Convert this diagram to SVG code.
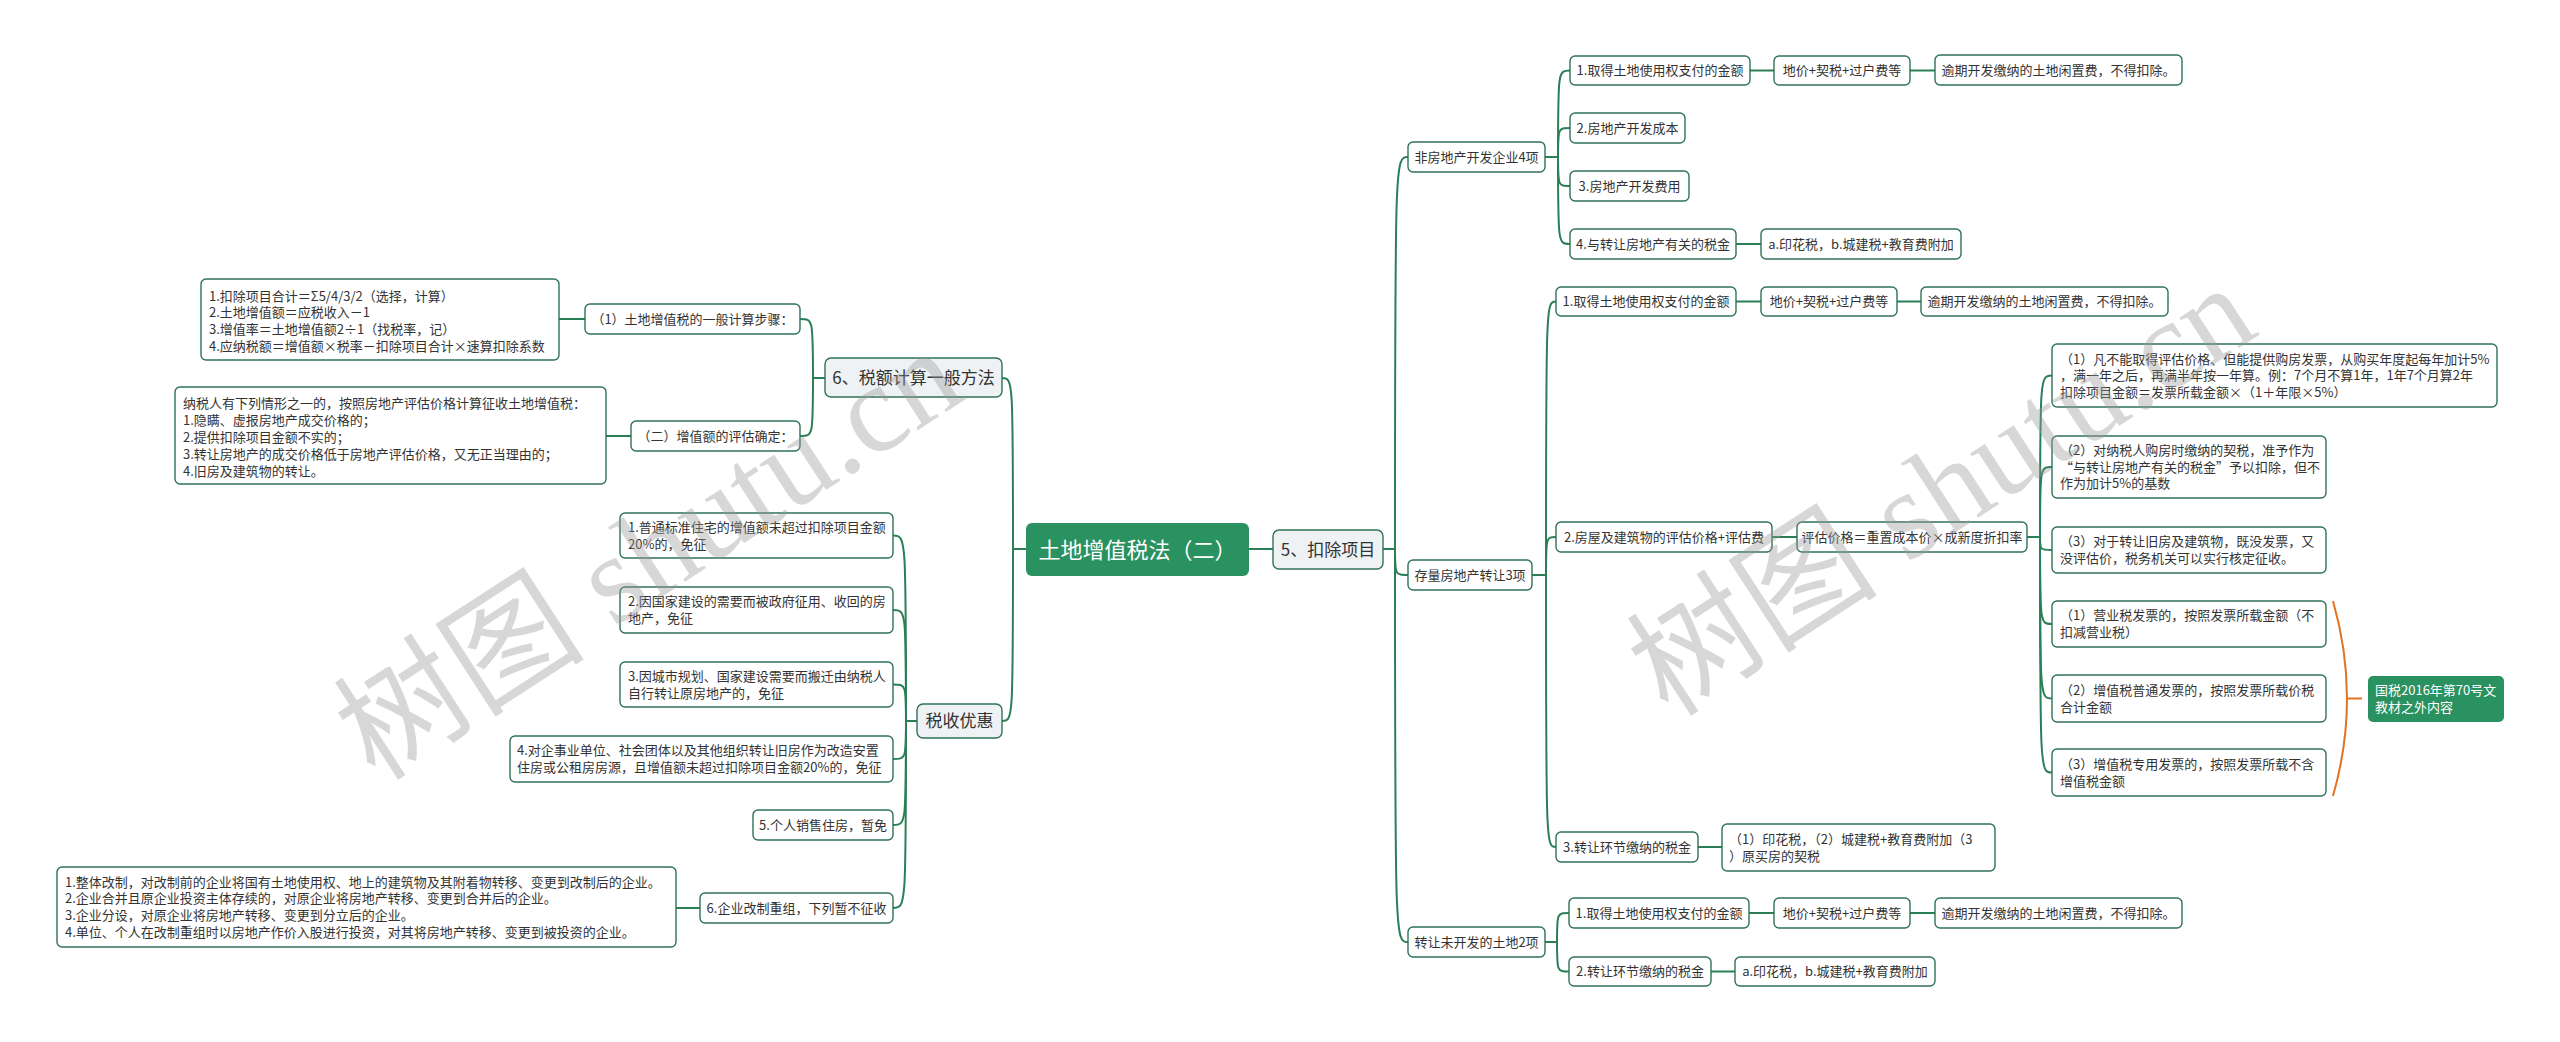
<svg xmlns="http://www.w3.org/2000/svg" width="2560" height="1042" viewBox="0 0 2560 1042">
<style>
.c{fill:none;stroke:#2b7f57;stroke-width:2}
.n rect{fill:#fff;stroke:#2f7356;stroke-width:1.4}
.b rect{fill:#eef2f5;stroke:#2f7356;stroke-width:1.4}
.g rect{fill:#2a9160;stroke:none}
text{font-family:"Noto Sans CJK SC","Noto Sans",sans-serif;fill:#333}
.t{font-size:13px}
.tm{font-size:13px;text-anchor:middle}
.bt{font-size:17px;text-anchor:middle}
.ct{font-size:22px;text-anchor:middle;fill:#fff}
.wt{font-size:13px;fill:#fff}
.wm{font-family:"Liberation Serif","Noto Sans CJK SC",serif;font-size:126px;fill:#999;opacity:0.38;text-anchor:middle}
</style>
<rect width="2560" height="1042" fill="#fff"/>
<g id="connectors">
<path class="c" d="M1026,549 L1013,549"/>
<path class="c" d="M1013,549 C1013,378 1013,378 1002,378"/>
<path class="c" d="M1013,549 C1013,721 1013,721 1002,721"/>
<path class="c" d="M825,378 L813,378"/>
<path class="c" d="M813,378 C813,319 813,319 800,319"/>
<path class="c" d="M813,378 C813,436 813,436 800,436"/>
<path class="c" d="M585,319 L559,319"/>
<path class="c" d="M631,436 L606,436"/>
<path class="c" d="M917,721 L906,721"/>
<path class="c" d="M906,721 C906,535.5 906,535.5 893,535.5"/>
<path class="c" d="M906,721 C906,610 906,610 893,610"/>
<path class="c" d="M906,721 C906,684.5 906,684.5 893,684.5"/>
<path class="c" d="M906,721 C906,759 906,759 893,759"/>
<path class="c" d="M906,721 C906,825 906,825 893,825"/>
<path class="c" d="M906,721 C906,908 906,908 893,908"/>
<path class="c" d="M700,908 L676,908"/>
<path class="c" d="M1249,549 L1273,549"/>
<path class="c" d="M1383,549 L1395,549"/>
<path class="c" d="M1395,549 C1395,157 1395,157 1408,157"/>
<path class="c" d="M1395,549 C1395,575 1395,575 1408,575"/>
<path class="c" d="M1395,549 C1395,942 1395,942 1408,942"/>
<path class="c" d="M1545,157 L1558,157"/>
<path class="c" d="M1558,157 C1558,70.5 1558,70.5 1570,70.5"/>
<path class="c" d="M1558,157 C1558,128 1558,128 1570,128"/>
<path class="c" d="M1558,157 C1558,186 1558,186 1570,186"/>
<path class="c" d="M1558,157 C1558,244 1558,244 1570,244"/>
<path class="c" d="M1750,70.5 L1774,70.5"/>
<path class="c" d="M1910,70.5 L1935,70.5"/>
<path class="c" d="M1736,244 L1761,244"/>
<path class="c" d="M1532,575 L1546,575"/>
<path class="c" d="M1546,575 C1546,301.5 1546,301.5 1556,301.5"/>
<path class="c" d="M1546,575 C1546,537 1546,537 1556,537"/>
<path class="c" d="M1546,575 C1546,847 1546,847 1556,847"/>
<path class="c" d="M1736,301.5 L1761,301.5"/>
<path class="c" d="M1897,301.5 L1921,301.5"/>
<path class="c" d="M1772,537 L1797,537"/>
<path class="c" d="M2027,537 L2040,537"/>
<path class="c" d="M2040,537 C2040,375.5 2040,375.5 2052,375.5"/>
<path class="c" d="M2040,537 C2040,467 2040,467 2052,467"/>
<path class="c" d="M2040,537 C2040,550 2040,550 2052,550"/>
<path class="c" d="M2040,537 C2040,624 2040,624 2052,624"/>
<path class="c" d="M2040,537 C2040,698.5 2040,698.5 2052,698.5"/>
<path class="c" d="M2040,537 C2040,772.5 2040,772.5 2052,772.5"/>
<path class="c" d="M1698,847 L1722,847"/>
<path class="c" d="M1545,942 L1557,942"/>
<path class="c" d="M1557,942 C1557,913 1557,913 1569,913"/>
<path class="c" d="M1557,942 C1557,971.5 1557,971.5 1569,971.5"/>
<path class="c" d="M1749,913 L1774,913"/>
<path class="c" d="M1910,913 L1935,913"/>
<path class="c" d="M1711,971.5 L1735,971.5"/>
<path d="M2333,601 Q2361,698.5 2333,796" fill="none" stroke="#e2731e" stroke-width="2"/>
<path d="M2347,698.5 L2362,698.5" fill="none" stroke="#e2731e" stroke-width="2"/>
</g>
<g id="n-center" class="g"><rect x="1026" y="523" width="223" height="53" rx="6"/><text class="ct" x="1137.5" y="557.5">土地增值税法（二）</text></g>
<g id="n-b5" class="b"><rect x="1273" y="530" width="110" height="39" rx="6"/><text class="bt" x="1328" y="555.5">5、扣除项目</text></g>
<g id="n-b6" class="b"><rect x="825" y="358" width="177" height="39" rx="6"/><text class="bt" x="913.5" y="383.5">6、税额计算一般方法</text></g>
<g id="n-bs" class="b"><rect x="917" y="704" width="85" height="34" rx="6"/><text class="bt" x="959.5" y="727">税收优惠</text></g>
<g id="n-l1" class="n"><rect x="585" y="304" width="215" height="30" rx="5"/><text class="tm" x="692.5" y="323.7">（1）土地增值税的一般计算步骤：</text></g>
<g id="n-l1a" class="n"><rect x="201" y="279" width="358" height="81" rx="5"/><text class="t"><tspan x="209" y="300.7">1.扣除项目合计＝Σ5/4/3/2（选择，计算）</tspan><tspan x="209" y="317.4">2.土地增值额＝应税收入－1</tspan><tspan x="209" y="334">3.增值率＝土地增值额2÷1（找税率，记）</tspan><tspan x="209" y="350.7">4.应纳税额＝增值额×税率－扣除项目合计×速算扣除系数</tspan></text></g>
<g id="n-l2" class="n"><rect x="631" y="421" width="169" height="30" rx="5"/><text class="tm" x="715.5" y="440.7">（二）增值额的评估确定：</text></g>
<g id="n-l2a" class="n"><rect x="175" y="387" width="431" height="97" rx="5"/><text class="t"><tspan x="183" y="407.7">纳税人有下列情形之一的，按照房地产评估价格计算征收土地增值税：</tspan><tspan x="183" y="424.7">1.隐瞒、虚报房地产成交价格的；</tspan><tspan x="183" y="441.7">2.提供扣除项目金额不实的；</tspan><tspan x="183" y="458.7">3.转让房地产的成交价格低于房地产评估价格，又无正当理由的；</tspan><tspan x="183" y="475.7">4.旧房及建筑物的转让。</tspan></text></g>
<g id="n-s1" class="n"><rect x="620" y="513" width="273" height="45" rx="5"/><text class="t"><tspan x="628" y="531.9">1.普通标准住宅的增值额未超过扣除项目金额</tspan><tspan x="628" y="548.5">20%的，免征</tspan></text></g>
<g id="n-s2" class="n"><rect x="620" y="587" width="273" height="46" rx="5"/><text class="t"><tspan x="628" y="606.4">2.因国家建设的需要而被政府征用、收回的房</tspan><tspan x="628" y="623">地产，免征</tspan></text></g>
<g id="n-s3" class="n"><rect x="620" y="662" width="273" height="45" rx="5"/><text class="t"><tspan x="628" y="680.9">3.因城市规划、国家建设需要而搬迁由纳税人</tspan><tspan x="628" y="697.5">自行转让原房地产的，免征</tspan></text></g>
<g id="n-s4" class="n"><rect x="510" y="736" width="383" height="46" rx="5"/><text class="t"><tspan x="517" y="755.4">4.对企事业单位、社会团体以及其他组织转让旧房作为改造安置</tspan><tspan x="517" y="772">住房或公租房房源，且增值额未超过扣除项目金额20%的，免征</tspan></text></g>
<g id="n-s5" class="n"><rect x="753" y="810" width="140" height="30" rx="5"/><text class="tm" x="823" y="829.7">5.个人销售住房，暂免</text></g>
<g id="n-s6" class="n"><rect x="700" y="893" width="193" height="30" rx="5"/><text class="tm" x="796.5" y="912.7">6.企业改制重组，下列暂不征收</text></g>
<g id="n-s6a" class="n"><rect x="57" y="867" width="619" height="80" rx="5"/><text class="t"><tspan x="65" y="886.7">1.整体改制，对改制前的企业将国有土地使用权、地上的建筑物及其附着物转移、变更到改制后的企业。</tspan><tspan x="65" y="903.4">2.企业合并且原企业投资主体存续的，对原企业将房地产转移、变更到合并后的企业。</tspan><tspan x="65" y="920">3.企业分设，对原企业将房地产转移、变更到分立后的企业。</tspan><tspan x="65" y="936.7">4.单位、个人在改制重组时以房地产作价入股进行投资，对其将房地产转移、变更到被投资的企业。</tspan></text></g>
<g id="n-r1" class="n"><rect x="1408" y="142" width="137" height="30" rx="5"/><text class="tm" x="1476.5" y="161.7">非房地产开发企业4项</text></g>
<g id="n-r1-1" class="n"><rect x="1570" y="56" width="180" height="29" rx="5"/><text class="tm" x="1660" y="75.2">1.取得土地使用权支付的金额</text></g>
<g id="n-r1-1a" class="n"><rect x="1774" y="56" width="136" height="29" rx="5"/><text class="tm" x="1842" y="75.2">地价+契税+过户费等</text></g>
<g id="n-r1-1b" class="n"><rect x="1935" y="55" width="247" height="30" rx="5"/><text class="tm" x="2058.5" y="74.7">逾期开发缴纳的土地闲置费，不得扣除。</text></g>
<g id="n-r1-2" class="n"><rect x="1570" y="113" width="115" height="30" rx="5"/><text class="tm" x="1627.5" y="132.7">2.房地产开发成本</text></g>
<g id="n-r1-3" class="n"><rect x="1570" y="171" width="119" height="30" rx="5"/><text class="tm" x="1629.5" y="190.7">3.房地产开发费用</text></g>
<g id="n-r1-4" class="n"><rect x="1570" y="229" width="166" height="30" rx="5"/><text class="tm" x="1653" y="248.7">4.与转让房地产有关的税金</text></g>
<g id="n-r1-4a" class="n"><rect x="1761" y="229" width="200" height="30" rx="5"/><text class="tm" x="1861" y="248.7">a.印花税，b.城建税+教育费附加</text></g>
<g id="n-r2" class="n"><rect x="1408" y="560" width="124" height="30" rx="5"/><text class="tm" x="1470" y="579.7">存量房地产转让3项</text></g>
<g id="n-r2-1" class="n"><rect x="1556" y="287" width="180" height="29" rx="5"/><text class="tm" x="1646" y="306.2">1.取得土地使用权支付的金额</text></g>
<g id="n-r2-1a" class="n"><rect x="1761" y="287" width="136" height="29" rx="5"/><text class="tm" x="1829" y="306.2">地价+契税+过户费等</text></g>
<g id="n-r2-1b" class="n"><rect x="1921" y="287" width="247" height="29" rx="5"/><text class="tm" x="2044.5" y="306.2">逾期开发缴纳的土地闲置费，不得扣除。</text></g>
<g id="n-r2-2" class="n"><rect x="1556" y="522" width="216" height="30" rx="5"/><text class="tm" x="1664" y="541.7">2.房屋及建筑物的评估价格+评估费</text></g>
<g id="n-r2-2a" class="n"><rect x="1797" y="522" width="230" height="30" rx="5"/><text class="tm" x="1912" y="541.7">评估价格＝重置成本价×成新度折扣率</text></g>
<g id="n-p1" class="n"><rect x="2052" y="344" width="445" height="63" rx="5"/><text class="t"><tspan x="2060" y="363.5">（1）凡不能取得评估价格、但能提供购房发票，从购买年度起每年加计5%</tspan><tspan x="2060" y="380.2">，满一年之后，再满半年按一年算。例：7个月不算1年，1年7个月算2年</tspan><tspan x="2060" y="396.9">扣除项目金额＝发票所载金额×（1＋年限×5%）</tspan></text></g>
<g id="n-p2" class="n"><rect x="2052" y="436" width="274" height="62" rx="5"/><text class="t"><tspan x="2060" y="455">（2）对纳税人购房时缴纳的契税，准予作为</tspan><tspan x="2060" y="471.7">“与转让房地产有关的税金”予以扣除，但不</tspan><tspan x="2060" y="488.4">作为加计5%的基数</tspan></text></g>
<g id="n-p3" class="n"><rect x="2052" y="527" width="274" height="46" rx="5"/><text class="t"><tspan x="2060" y="546.4">（3）对于转让旧房及建筑物，既没发票，又</tspan><tspan x="2060" y="563">没评估价，税务机关可以实行核定征收。</tspan></text></g>
<g id="n-q1" class="n"><rect x="2052" y="601" width="274" height="46" rx="5"/><text class="t"><tspan x="2060" y="620.4">（1）营业税发票的，按照发票所载金额（不</tspan><tspan x="2060" y="637">扣减营业税）</tspan></text></g>
<g id="n-q2" class="n"><rect x="2052" y="675" width="274" height="47" rx="5"/><text class="t"><tspan x="2060" y="694.9">（2）增值税普通发票的，按照发票所载价税</tspan><tspan x="2060" y="711.5">合计金额</tspan></text></g>
<g id="n-q3" class="n"><rect x="2052" y="749" width="274" height="47" rx="5"/><text class="t"><tspan x="2060" y="768.9">（3）增值税专用发票的，按照发票所载不含</tspan><tspan x="2060" y="785.5">增值税金额</tspan></text></g>
<g id="n-note" class="g"><rect x="2368" y="676" width="136" height="46" rx="5"/><text class="wt"><tspan x="2375" y="695.4">国税2016年第70号文</tspan><tspan x="2375" y="712">教材之外内容</tspan></text></g>
<g id="n-r2-3" class="n"><rect x="1556" y="832" width="142" height="30" rx="5"/><text class="tm" x="1627" y="851.7">3.转让环节缴纳的税金</text></g>
<g id="n-r2-3a" class="n"><rect x="1722" y="824" width="273" height="47" rx="5"/><text class="t"><tspan x="1729" y="843.9">（1）印花税，（2）城建税+教育费附加（3</tspan><tspan x="1729" y="860.5">）原买房的契税</tspan></text></g>
<g id="n-r3" class="n"><rect x="1408" y="927" width="137" height="30" rx="5"/><text class="tm" x="1476.5" y="946.7">转让未开发的土地2项</text></g>
<g id="n-r3-1" class="n"><rect x="1569" y="898" width="180" height="30" rx="5"/><text class="tm" x="1659" y="917.7">1.取得土地使用权支付的金额</text></g>
<g id="n-r3-1a" class="n"><rect x="1774" y="898" width="136" height="30" rx="5"/><text class="tm" x="1842" y="917.7">地价+契税+过户费等</text></g>
<g id="n-r3-1b" class="n"><rect x="1935" y="898" width="247" height="30" rx="5"/><text class="tm" x="2058.5" y="917.7">逾期开发缴纳的土地闲置费，不得扣除。</text></g>
<g id="n-r3-2" class="n"><rect x="1569" y="957" width="142" height="29" rx="5"/><text class="tm" x="1640" y="976.2">2.转让环节缴纳的税金</text></g>
<g id="n-r3-2a" class="n"><rect x="1735" y="957" width="200" height="29" rx="5"/><text class="tm" x="1835" y="976.2">a.印花税，b.城建税+教育费附加</text></g>
<g id="watermark">
<text class="wm" transform="translate(672,590) rotate(-33)">树图 shutu.cn</text>
<text class="wm" transform="translate(1965,526) rotate(-33)">树图 shutu.cn</text>
</g>
</svg>
